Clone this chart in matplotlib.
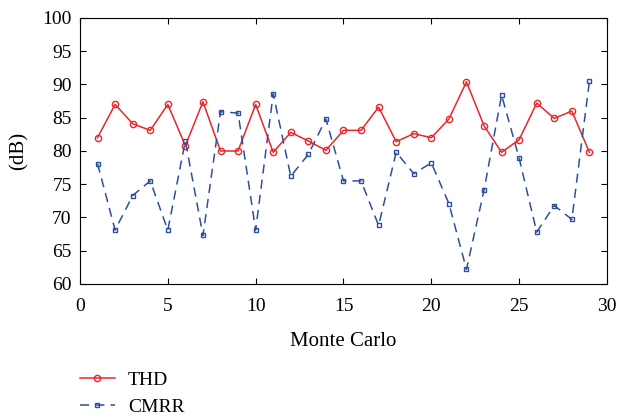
import matplotlib
matplotlib.use("Agg")
import matplotlib.pyplot as plt

plt.rcParams['font.family'] = ['Liberation Serif', 'DejaVu Serif']

runs = list(range(1, 30))
thd = [82.0, 87.0, 84.1, 83.1, 87.0, 80.8, 87.4, 80.0, 80.0, 87.0,
       79.8, 82.8, 81.5, 80.1, 83.1, 83.1, 86.6, 81.4, 82.6, 82.0,
       84.8, 90.4, 83.8, 79.8, 81.7, 87.2, 84.9, 86.0, 79.8]
cmrr = [78.1, 68.1, 73.3, 75.5, 68.1, 81.5, 67.3, 85.9, 85.7, 68.1,
        88.6, 76.2, 79.5, 84.8, 75.5, 75.5, 68.8, 79.8, 76.6, 78.2,
        72.1, 62.2, 74.1, 88.4, 78.9, 67.8, 71.8, 69.7, 90.5]

fig = plt.figure(figsize=(6.18, 4.18), dpi=100)
ax = fig.add_axes([0.1294, 0.3206, 0.8528, 0.6364])

ax.plot(runs, thd, color='#e8262b', lw=1.1, marker='o', ms=4.5,
        mfc='none', mew=1.0, label='THD')
ax.plot(runs, cmrr, color='#2e4fa0', lw=1.1, ls=(0, (6, 4)), marker='s', ms=3.5,
        mfc='none', mew=1.0, label='CMRR')

ax.set_xlim(0, 30)
ax.set_ylim(60, 100)
ax.set_xticks(range(0, 31, 5))
ax.set_yticks(range(60, 101, 5))
ax.tick_params(direction='in', top=True, right=True, length=4, labelsize=14, pad=6)
ax.tick_params(axis='x', pad=10)
ax.set_xlabel('Monte Carlo', fontsize=15, labelpad=12)
ax.set_ylabel('(dB)', fontsize=15, labelpad=10)

fig.legend(loc='upper left', bbox_to_anchor=(0.113, 0.135), frameon=False,
           fontsize=14, handlelength=1.8, handletextpad=0.7,
           labelspacing=0.5, borderpad=0)

fig.savefig('out.png', dpi=100)
